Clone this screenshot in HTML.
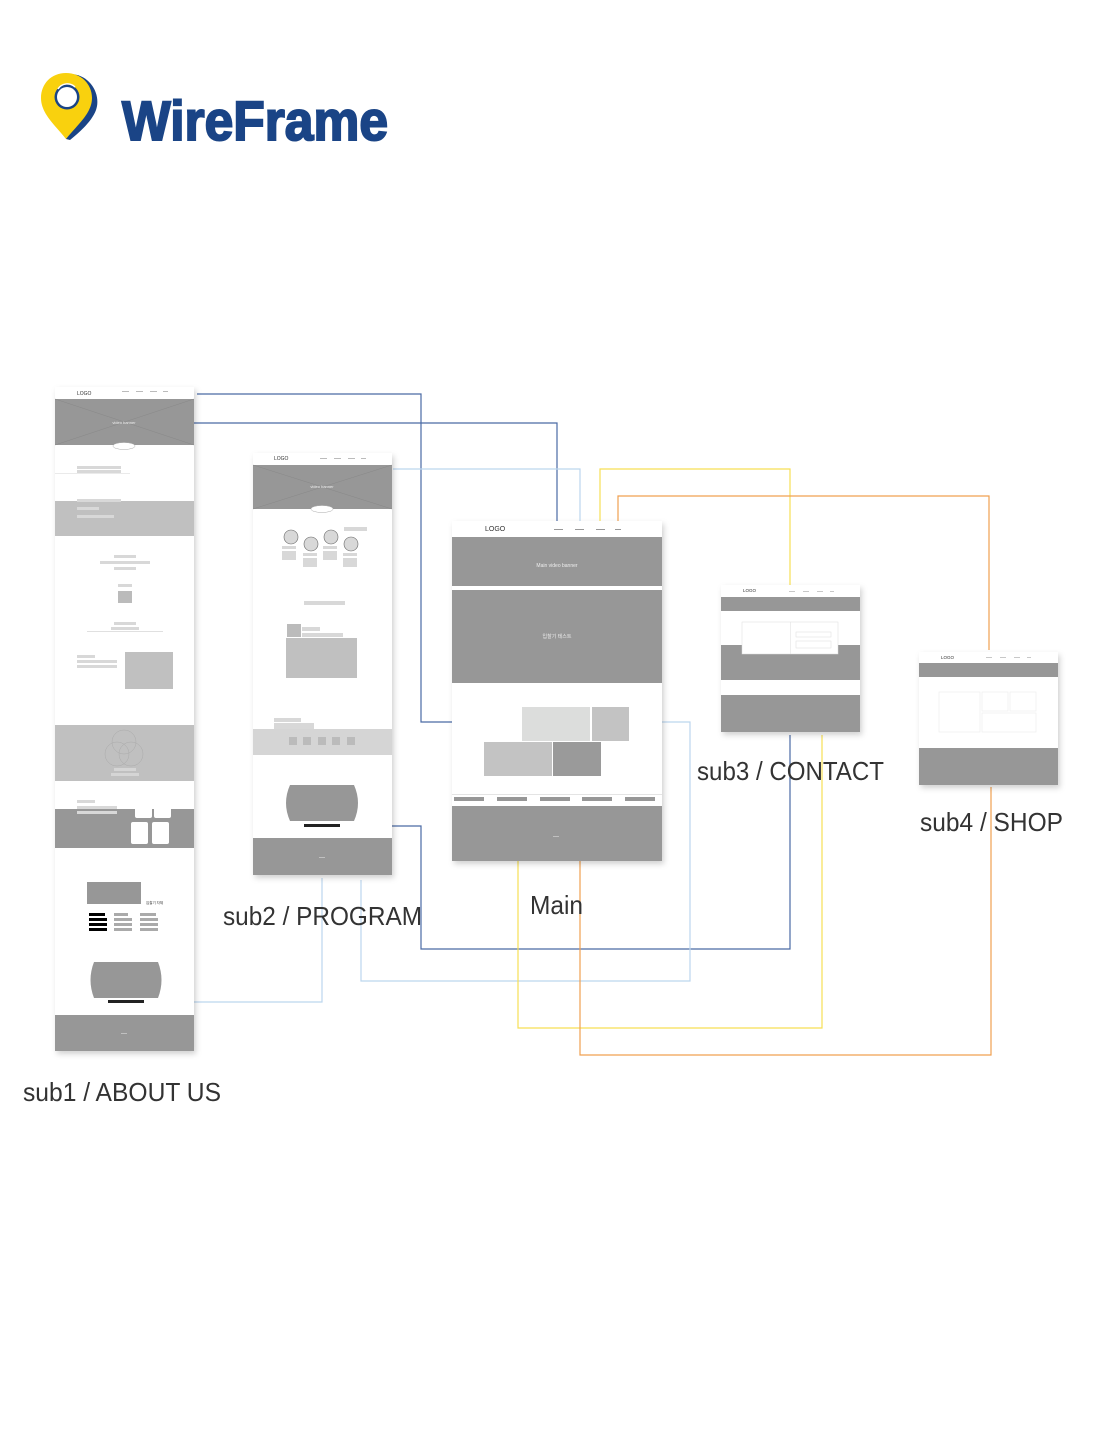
<!DOCTYPE html>
<html><head><meta charset="utf-8"><style>
html,body{margin:0;padding:0;background:#fff;}
svg{display:block;}
text{font-family:"Liberation Sans","Noto Sans CJK KR",sans-serif;}
</style></head><body>
<svg width="1115" height="1443" viewBox="0 0 1115 1443" xmlns="http://www.w3.org/2000/svg">
<defs>
<filter id="sh" x="-10%" y="-10%" width="120%" height="120%"><feDropShadow dx="2" dy="3" stdDeviation="3" flood-color="#000" flood-opacity="0.18"/></filter>
</defs>
<!-- logo -->
<path d="M72 74 C92 76 101 96 96 110 C92 121 80 132 70 140 L66 139 Z" fill="#1a4486"/>
<path d="M66 73 C51 73 41 84 41 98 C41 114 56 126 66 139 C76 126 92 114 92 98 C92 84 81 73 66 73 Z" fill="#f9d10e"/>
<circle cx="67" cy="97" r="12.5" fill="#1a4486"/>
<circle cx="67" cy="97" r="10" fill="#fff"/>
<path d="M58 89 A11 11 0 0 1 75 87" stroke="#fff" stroke-width="1.5" fill="none"/>
<text x="122" y="140" font-size="56" font-weight="bold" fill="#1a4486" stroke="#1a4486" stroke-width="2" textLength="266" lengthAdjust="spacingAndGlyphs">WireFrame</text>

<!-- connectors -->
<g fill="none" stroke-width="1.2">
<polyline points="197,394 421,394 421,722 524,722" stroke="#4a6aa5"/>
<polyline points="194,423 557,423 557,527" stroke="#4a6aa5"/>
<polyline points="340,826 421,826 421,949 790,949 790,735" stroke="#4a6aa5"/>
<polyline points="393,469 580,469 580,527" stroke="#bcd6ee"/>
<polyline points="629,722 690,722 690,981 361,981 361,880" stroke="#bcd6ee"/>
<polyline points="162,1002 322,1002 322,878" stroke="#bcd6ee"/>
<polyline points="600,527 600,469 790,469 790,585" stroke="#f7df55"/>
<polyline points="518,775 518,1028 822,1028 822,735" stroke="#f7df55"/>
<polyline points="618,522 618,496 989,496 989,650" stroke="#f0a050"/>
<polyline points="580,775 580,1055 991,1055 991,787" stroke="#f0a050"/>
</g>

<!-- sub1 -->
<g>
<rect x="55" y="387" width="139" height="664" fill="#fff" filter="url(#sh)"/>
<text x="77" y="395" font-size="5" fill="#333">LOGO</text>
<g fill="#bbb"><rect x="122" y="391" width="7" height="1"/><rect x="136" y="391" width="7" height="1"/><rect x="150" y="391" width="7" height="1"/><rect x="163" y="391" width="5" height="1"/></g>
<rect x="55" y="399" width="139" height="46" fill="#979797"/>
<path d="M55 399 L194 445 M194 399 L55 445" stroke="#888" stroke-width="0.5"/>
<text x="124" y="424" font-size="4" fill="#eee" text-anchor="middle">video banner</text>
<ellipse cx="124" cy="446" rx="11" ry="3.5" fill="#fff" stroke="#aaa" stroke-width="0.5"/>
<g fill="#d8d8d8"><rect x="77" y="466" width="44" height="3"/><rect x="77" y="470" width="44" height="3"/></g>
<rect x="55" y="473" width="75" height="0.6" fill="#ddd"/>
<rect x="55" y="501" width="139" height="35" fill="#c0c0c0"/>
<g fill="#d8d8d8"><rect x="77" y="499" width="44" height="3"/><rect x="77" y="507" width="22" height="3"/><rect x="77" y="515" width="37" height="3"/></g>
<g fill="#d8d8d8"><rect x="114" y="555" width="22" height="3"/><rect x="100" y="561" width="50" height="3"/><rect x="114" y="567" width="22" height="3"/><rect x="118" y="584" width="14" height="3"/><rect x="114" y="622" width="22" height="3"/><rect x="111" y="627" width="28" height="3"/></g>
<rect x="118" y="591" width="14" height="12" fill="#bbb"/>
<rect x="87" y="631" width="76" height="0.6" fill="#ccc"/>
<g fill="#d8d8d8"><rect x="77" y="655" width="18" height="3"/><rect x="77" y="660" width="40" height="3"/><rect x="77" y="665" width="40" height="3"/></g>
<rect x="125" y="652" width="48" height="37" fill="#c0c0c0"/>
<rect x="55" y="725" width="139" height="56" fill="#c0c0c0"/>
<g fill="none" stroke="#aaa" stroke-width="0.5"><circle cx="124" cy="742" r="12"/><circle cx="117" cy="754" r="12"/><circle cx="131" cy="754" r="12"/></g>
<g fill="#d5d5d5"><rect x="114" y="768" width="22" height="3"/><rect x="111" y="773" width="28" height="3"/></g>
<rect x="55" y="809" width="139" height="39" fill="#979797"/>
<g fill="#d8d8d8"><rect x="77" y="800" width="18" height="3"/><rect x="77" y="806" width="40" height="3"/><rect x="77" y="811" width="40" height="3"/></g>
<g fill="#fff"><rect x="135" y="800" width="17" height="18" rx="2"/><rect x="154" y="800" width="17" height="18" rx="2"/><rect x="131" y="822" width="17" height="22" rx="2"/><rect x="152" y="822" width="17" height="22" rx="2"/></g>
<rect x="87" y="882" width="54" height="22" fill="#979797"/>
<text x="146" y="904" font-size="3.5" fill="#333">입찰기 자체</text>
<g fill="#000"><rect x="89" y="913" width="16" height="3"/><rect x="89" y="918" width="18" height="3"/><rect x="89" y="923" width="18" height="3"/><rect x="89" y="928" width="18" height="3"/></g>
<g fill="#aaa"><rect x="114" y="913" width="14" height="3"/><rect x="114" y="918" width="18" height="3"/><rect x="114" y="923" width="18" height="3"/><rect x="114" y="928" width="18" height="3"/><rect x="140" y="913" width="16" height="3"/><rect x="140" y="918" width="18" height="3"/><rect x="140" y="923" width="18" height="3"/><rect x="140" y="928" width="18" height="3"/></g>
<path d="M94 962 L158 962 Q165 980 158 998 L94 998 Q87 980 94 962 Z" fill="#979797"/>
<rect x="108" y="1000" width="36" height="3" fill="#222"/>
<rect x="55" y="1015" width="139" height="36" fill="#979797"/>
<rect x="121" y="1033" width="6" height="0.6" fill="#ddd"/>
</g>

<!-- sub2 -->
<g>
<rect x="253" y="453" width="139" height="422" fill="#fff" filter="url(#sh)"/>
<text x="274" y="460" font-size="5" fill="#333">LOGO</text>
<g fill="#bbb"><rect x="320" y="458" width="7" height="1"/><rect x="334" y="458" width="7" height="1"/><rect x="348" y="458" width="7" height="1"/><rect x="361" y="458" width="5" height="1"/></g>
<rect x="253" y="465" width="139" height="44" fill="#979797"/>
<path d="M253 465 L392 509 M392 465 L253 509" stroke="#888" stroke-width="0.5"/>
<text x="322" y="488" font-size="4" fill="#eee" text-anchor="middle">video banner</text>
<ellipse cx="322" cy="509" rx="11" ry="3.5" fill="#fff" stroke="#aaa" stroke-width="0.5"/>
<g fill="#d8d8d8" stroke="#666" stroke-width="0.6"><circle cx="291" cy="537" r="7"/><circle cx="311" cy="544" r="7"/><circle cx="331" cy="537" r="7"/><circle cx="351" cy="544" r="7"/></g>
<g fill="#d8d8d8"><rect x="282" y="546" width="14" height="3"/><rect x="282" y="551" width="14" height="9"/><rect x="303" y="553" width="14" height="3"/><rect x="303" y="558" width="14" height="9"/><rect x="323" y="546" width="14" height="3"/><rect x="323" y="551" width="14" height="9"/><rect x="343" y="553" width="14" height="3"/><rect x="343" y="558" width="14" height="9"/><rect x="344" y="527" width="23" height="4"/><rect x="304" y="601" width="41" height="4"/><rect x="302" y="627" width="18" height="4"/><rect x="302" y="633" width="41" height="4"/><rect x="274" y="718" width="27" height="4"/><rect x="274" y="723" width="40" height="6"/></g>
<rect x="287" y="624" width="14" height="13" fill="#bbb"/>
<rect x="286" y="638" width="71" height="40" fill="#c0c0c0"/>
<rect x="253" y="729" width="139" height="26" fill="#d5d5d5"/>
<g fill="#bbb"><rect x="289" y="737" width="8" height="8"/><rect x="303" y="737" width="8" height="8"/><rect x="318" y="737" width="8" height="8"/><rect x="332" y="737" width="8" height="8"/><rect x="347" y="737" width="8" height="8"/></g>
<path d="M290 785 L354 785 Q362 803 354 821 L290 821 Q282 803 290 785 Z" fill="#979797"/>
<rect x="304" y="824" width="36" height="3" fill="#222"/>
<rect x="253" y="838" width="139" height="37" fill="#979797"/>
<rect x="319" y="857" width="6" height="0.6" fill="#ddd"/>
</g>

<!-- main -->
<g>
<rect x="452" y="521" width="210" height="340" fill="#fff" filter="url(#sh)"/>
<text x="485" y="531" font-size="7" fill="#333">LOGO</text>
<g fill="#999"><rect x="554" y="529" width="9" height="1"/><rect x="575" y="529" width="9" height="1"/><rect x="596" y="529" width="9" height="1"/><rect x="615" y="529" width="6" height="1"/></g>
<rect x="452" y="537" width="210" height="49" fill="#979797"/>
<text x="557" y="567" font-size="5" fill="#eee" text-anchor="middle">Main video banner</text>
<rect x="452" y="590" width="210" height="93" fill="#979797"/>
<text x="557" y="638" font-size="5" fill="#eee" text-anchor="middle">입찰기 테스트</text>
<rect x="522" y="707" width="68" height="34" fill="#dcdddc"/>
<rect x="592" y="707" width="37" height="34" fill="#c3c3c3"/>
<rect x="484" y="742" width="68" height="34" fill="#c3c3c3"/>
<rect x="553" y="742" width="48" height="34" fill="#9a9a9a"/>
<rect x="452" y="794" width="210" height="0.8" fill="#ddd"/>
<g fill="#979797"><rect x="454" y="797" width="30" height="4"/><rect x="497" y="797" width="30" height="4"/><rect x="540" y="797" width="30" height="4"/><rect x="582" y="797" width="30" height="4"/><rect x="625" y="797" width="30" height="4"/></g>
<rect x="452" y="806" width="210" height="55" fill="#979797"/>
<rect x="553" y="836" width="6" height="0.6" fill="#ddd"/>
</g>

<!-- sub3 -->
<g>
<rect x="721" y="585" width="139" height="147" fill="#fff" filter="url(#sh)"/>
<text x="743" y="592" font-size="4.5" fill="#333">LOGO</text>
<g fill="#bbb"><rect x="789" y="591" width="6" height="0.8"/><rect x="803" y="591" width="6" height="0.8"/><rect x="817" y="591" width="6" height="0.8"/><rect x="830" y="591" width="4" height="0.8"/></g>
<rect x="721" y="597" width="139" height="14" fill="#979797"/>
<rect x="721" y="645" width="139" height="35" fill="#979797"/>
<rect x="742" y="622" width="96" height="32" fill="#fff" stroke="#ddd" stroke-width="0.5"/>
<rect x="790" y="622" width="0.5" height="32" fill="#ddd"/>
<rect x="796" y="632" width="35" height="5" fill="none" stroke="#ddd" stroke-width="0.5"/>
<rect x="796" y="641" width="35" height="7" fill="none" stroke="#ddd" stroke-width="0.5"/>
<rect x="721" y="695" width="139" height="37" fill="#979797"/>
</g>

<!-- sub4 -->
<g>
<rect x="919" y="652" width="139" height="133" fill="#fff" filter="url(#sh)"/>
<text x="941" y="659" font-size="4.5" fill="#333">LOGO</text>
<g fill="#bbb"><rect x="986" y="657" width="6" height="0.8"/><rect x="1000" y="657" width="6" height="0.8"/><rect x="1014" y="657" width="6" height="0.8"/><rect x="1027" y="657" width="4" height="0.8"/></g>
<rect x="919" y="663" width="139" height="14" fill="#979797"/>
<g fill="none" stroke="#eee" stroke-width="0.7"><rect x="939" y="692" width="41" height="40"/><rect x="982" y="692" width="26" height="19"/><rect x="1010" y="692" width="26" height="19"/><rect x="982" y="713" width="54" height="19"/></g>
<rect x="919" y="748" width="139" height="37" fill="#979797"/>
</g>

<!-- labels -->
<g fill="#333" font-size="26">
<text x="23" y="1101" textLength="198" lengthAdjust="spacingAndGlyphs">sub1 / ABOUT US</text>
<text x="223" y="925" textLength="199" lengthAdjust="spacingAndGlyphs">sub2 / PROGRAM</text>
<text x="530" y="914" textLength="53" lengthAdjust="spacingAndGlyphs">Main</text>
<text x="697" y="780" textLength="187" lengthAdjust="spacingAndGlyphs">sub3 / CONTACT</text>
<text x="920" y="831" textLength="143" lengthAdjust="spacingAndGlyphs">sub4 / SHOP</text>
</g>
</svg>
</body></html>
